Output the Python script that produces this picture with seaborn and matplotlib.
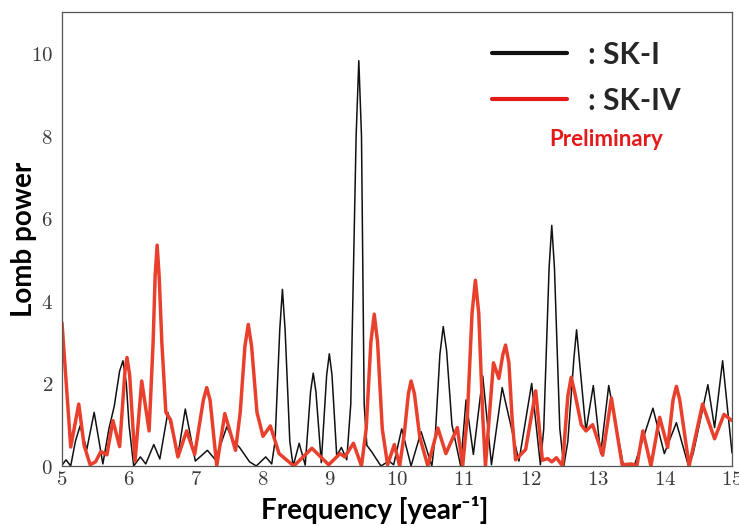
import matplotlib
matplotlib.use("Agg")
import matplotlib.pyplot as plt
from matplotlib.lines import Line2D
from matplotlib.ticker import FuncFormatter
import seaborn as sns
import pandas as pd

# ---- data ----
sk1_freq = [5.00, 5.06, 5.13, 5.20, 5.27, 5.37, 5.48, 5.61, 5.70, 5.78, 5.86, 5.91, 5.96,
            6.00, 6.07, 6.17, 6.25, 6.37, 6.46, 6.58, 6.73, 6.84, 6.99, 7.17, 7.29, 7.46,
            7.56, 7.65, 7.80, 7.90, 8.04, 8.13, 8.18, 8.25, 8.29, 8.33, 8.40, 8.45, 8.54,
            8.63, 8.71, 8.75, 8.79, 8.87, 8.95, 8.99, 9.03, 9.10, 9.17, 9.25, 9.31, 9.39,
            9.43, 9.47, 9.51, 9.55, 9.62, 9.76, 9.88, 9.95, 10.07, 10.21, 10.36, 10.52,
            10.57, 10.64, 10.69, 10.74, 10.82, 10.95, 11.03, 11.14, 11.28, 11.41, 11.57,
            11.82, 12.01, 12.14, 12.19, 12.27, 12.31, 12.35, 12.43, 12.49, 12.55, 12.64,
            12.68, 12.72, 12.82, 12.93, 13.04, 13.16, 13.38, 13.55, 13.82, 13.99, 14.17,
            14.35, 14.42, 14.64, 14.74, 14.86, 15.00]
sk1_power = [0.02, 0.15, 0.00, 0.60, 0.97, 0.40, 1.30, 0.05, 0.90, 1.45, 2.30, 2.55, 2.00,
             1.00, 0.00, 0.22, 0.05, 0.52, 0.17, 1.30, 0.26, 1.38, 0.12, 0.38, 0.15, 0.95,
             0.60, 0.45, 0.10, 0.00, 0.22, 0.05, 0.60, 3.30, 4.28, 3.30, 0.60, 0.00, 0.55,
             0.02, 1.80, 2.25, 1.80, 0.08, 2.20, 2.72, 2.20, 0.25, 0.45, 0.15, 1.50, 8.00,
             9.82, 8.00, 1.50, 0.50, 0.35, 0.00, 0.12, 0.03, 0.90, 0.00, 0.83, 0.00,
             0.70, 2.70, 3.38, 2.80, 1.00, 0.00, 1.60, 0.28, 2.18, 0.03, 1.90,
             0.12, 2.00, 0.03, 0.90, 4.80, 5.83, 4.80, 0.90, 0.00, 0.60, 2.60,
             3.30, 2.60, 0.85, 1.95, 0.30, 1.95, 0.00, 0.05, 1.40, 0.30, 1.05,
             0.00, 0.30, 1.97, 0.93, 2.55, 0.32]

sk4_freq = [5.00, 5.13, 5.25, 5.33, 5.42, 5.50, 5.58, 5.67, 5.76, 5.86, 5.94, 5.97, 6.01,
            6.09, 6.19, 6.30, 6.36, 6.39, 6.42, 6.45, 6.49, 6.55, 6.62, 6.73, 6.86, 6.98,
            7.11, 7.16, 7.21, 7.31, 7.43, 7.59, 7.66, 7.73, 7.78, 7.83, 7.91, 8.00, 8.11,
            8.24, 8.35, 8.46, 8.73, 8.98, 9.15, 9.22, 9.35, 9.47, 9.54, 9.61, 9.66, 9.71,
            9.78, 9.86, 9.96, 10.04, 10.11, 10.17, 10.21, 10.26, 10.34, 10.46, 10.61,
            10.73, 10.90, 10.98, 11.05, 11.12, 11.17, 11.22, 11.28, 11.32, 11.44, 11.52,
            11.58, 11.62, 11.67, 11.72, 11.77, 11.86, 11.92, 12.07, 12.17, 12.25, 12.31,
            12.38, 12.47, 12.55, 12.60, 12.65, 12.75, 12.82, 12.92, 13.07, 13.20, 13.36,
            13.50, 13.58, 13.67, 13.79, 13.92, 14.04, 14.12, 14.17, 14.22, 14.36, 14.56,
            14.74, 14.88, 15.00]
sk4_power = [3.47, 0.46, 1.50, 0.50, 0.03, 0.10, 0.35, 0.27, 1.10, 0.47, 2.30, 2.63, 2.20,
             0.12, 2.06, 0.85, 3.00, 4.60, 5.35, 4.60, 3.00, 1.30, 1.12, 0.22, 0.85, 0.28,
             1.60, 1.90, 1.60, 0.00, 1.27, 0.38, 1.30, 2.90, 3.43, 2.90, 1.30, 0.72, 0.97,
             0.30, 0.15, 0.00, 0.43, 0.03, 0.30, 0.22, 0.55, 0.00, 0.90, 3.00, 3.68, 3.00,
             0.90, 0.03, 0.52, 0.00, 0.80, 1.75, 2.06, 1.75, 0.70, 0.00, 0.92,
             0.30, 0.93, 0.00, 1.20, 3.70, 4.50, 3.70, 1.20, 0.00, 2.50, 2.12,
             2.70, 2.93, 2.50, 1.10, 0.15, 0.30, 0.40, 1.82, 0.14, 0.18, 0.10,
             0.20, 0.00, 1.70, 2.15, 1.80, 1.00, 0.85, 1.00, 0.26, 1.65, 0.03,
             0.05, 0.00, 0.85, 0.00, 1.18, 0.45, 1.60, 1.93, 1.60, 0.00, 1.50,
             0.66, 1.25, 1.10]

series_names = ["SK-I", "SK-IV"]
legend_labels = [": SK-I", ": SK-IV"]
x_ticks = [5, 6, 7, 8, 9, 10, 11, 12, 13, 14, 15]
y_ticks = [0, 2, 4, 6, 8, 10]

df1 = pd.DataFrame({"freq": sk1_freq, "power": sk1_power, "series": series_names[0]})
df4 = pd.DataFrame({"freq": sk4_freq, "power": sk4_power, "series": series_names[1]})

# ---- style ----
sns.set_style("white")
plt.rcParams["mathtext.fontset"] = "cm"
plt.rcParams["font.family"] = ["Lato", "DejaVu Sans"]

BLACK = "#111111"
RED = "#e8402c"
LEGEND_RED = "#e41a1a"

fig = plt.figure(figsize=(7.39, 5.26), dpi=100)
ax = fig.add_axes([62 / 739, 60 / 526, 670 / 739, 454 / 526])

sns.lineplot(data=df1, x="freq", y="power", color=BLACK, linewidth=1.1,
             estimator=None, ax=ax, legend=False, solid_joinstyle="round")
sns.lineplot(data=df4, x="freq", y="power", color=RED, linewidth=2.5,
             estimator=None, ax=ax, legend=False, solid_joinstyle="round")

ax.set_xlim(5, 15)
ax.set_ylim(0, 11)
ax.set_xticks(x_ticks)
ax.set_yticks(y_ticks)
fmt = FuncFormatter(lambda v, p: r"$%g$" % v)
ax.xaxis.set_major_formatter(fmt)
ax.yaxis.set_major_formatter(fmt)
ax.tick_params(axis="both", which="major", direction="out", width=0.8,
               color="#555555", labelcolor="#3a3a3a", labelsize=15)
ax.tick_params(axis="x", length=3, pad=-1.0)
ax.tick_params(axis="y", length=5, pad=1.5)
for s in ax.spines.values():
    s.set_visible(True)
    s.set_color("#555555")
    s.set_linewidth(0.9)

ax.set_xlabel("Frequency [year⁻¹]", fontsize=20, fontweight="bold", color="black",
              family=["Lato", "DejaVu Sans"])
ax.set_ylabel("Lomb power", fontsize=20, fontweight="bold", color="black")
ax.xaxis.set_label_coords(0.467, -0.066)
ax.yaxis.set_label_coords(-0.037, 0.5)

handles = [Line2D([], [], color=BLACK, lw=3.0), Line2D([], [], color=LEGEND_RED, lw=3.0)]
leg = ax.legend(handles, legend_labels, loc="upper left", bbox_to_anchor=(0.642, 0.937),
                frameon=False, borderpad=0, borderaxespad=0, handlelength=2.5,
                handletextpad=0.7, labelspacing=0.6,
                prop={"family": "Lato", "weight": "bold", "size": 21.5})
ax.text(0.812, 0.72, "Preliminary", transform=ax.transAxes, ha="center", va="center",
        color=LEGEND_RED, fontsize=16, fontweight="bold")

fig.savefig("out.png", dpi=100)
